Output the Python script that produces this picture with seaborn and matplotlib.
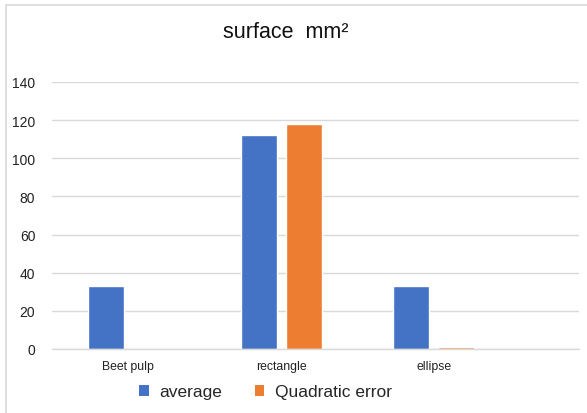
import matplotlib
matplotlib.use("Agg")
import matplotlib.pyplot as plt
import seaborn as sns
import pandas as pd
from matplotlib.patches import Patch, Rectangle

categories = ["Beet pulp", "rectangle", "ellipse"]
series_names = ["average", "Quadratic error"]
average = [33.0, 112.3, 33.0]
quadratic_error = [0.0, 118.2, 0.8]
yticks = [0, 20, 40, 60, 80, 100, 120, 140]
colors = ["#4472C4", "#ED7D31"]

df = pd.DataFrame({
    "category": categories * 2,
    "series": [series_names[0]] * 3 + [series_names[1]] * 3,
    "value": average + quadratic_error,
})

sns.set_theme(style="white")
plt.rcParams["font.family"] = ["Liberation Sans", "DejaVu Sans"]

fig = plt.figure(figsize=(5.87, 4.14), dpi=100)
ax = fig.add_axes([52 / 587, 1 - 350 / 414, 527 / 587, (350 - 83) / 414])

sns.barplot(data=df, x="category", y="value", hue="series", palette=colors,
            width=0.59, gap=0.2, ax=ax, legend=False, saturation=1, errorbar=None)

ax.set_ylim(0, 140)
ax.set_yticks(yticks)
ax.set_xlim(-0.5, 2.95)
ax.yaxis.grid(True, color="#D9D9D9", linewidth=1)
ax.set_axisbelow(True)
for s in ["left", "right", "top"]:
    ax.spines[s].set_visible(False)
ax.spines["bottom"].set_color("#D9D9D9")
ax.spines["bottom"].set_linewidth(1)
ax.tick_params(axis="y", length=0, pad=12, labelsize=10, labelcolor="#222222")
ax.tick_params(axis="x", length=0, pad=8, labelsize=8.8, labelcolor="#222222")
ax.set_xlabel("")
ax.set_ylabel("")

fig.text(223 / 587, 1 - 32 / 414, "surface  mm²", ha="left", va="center",
         fontsize=15.5, color="#111111")

handles = [Patch(facecolor=c, edgecolor="none") for c in colors]
fig.legend(handles, series_names, loc="center left", bbox_to_anchor=(139 / 587, 1 - 393 / 414),
           ncol=2, frameon=False, fontsize=12.5, handlelength=0.55, handleheight=0.55,
           handletextpad=0.6, columnspacing=1.9, borderaxespad=0, borderpad=0)

fig.patches.append(Rectangle((6 / 587, -0.1), 1.2, 1 - 6 / 414 + 0.1, transform=fig.transFigure,
                             fill=False, edgecolor="#D9D9D9", linewidth=1.2, zorder=0))

fig.savefig("out.png", dpi=100)
